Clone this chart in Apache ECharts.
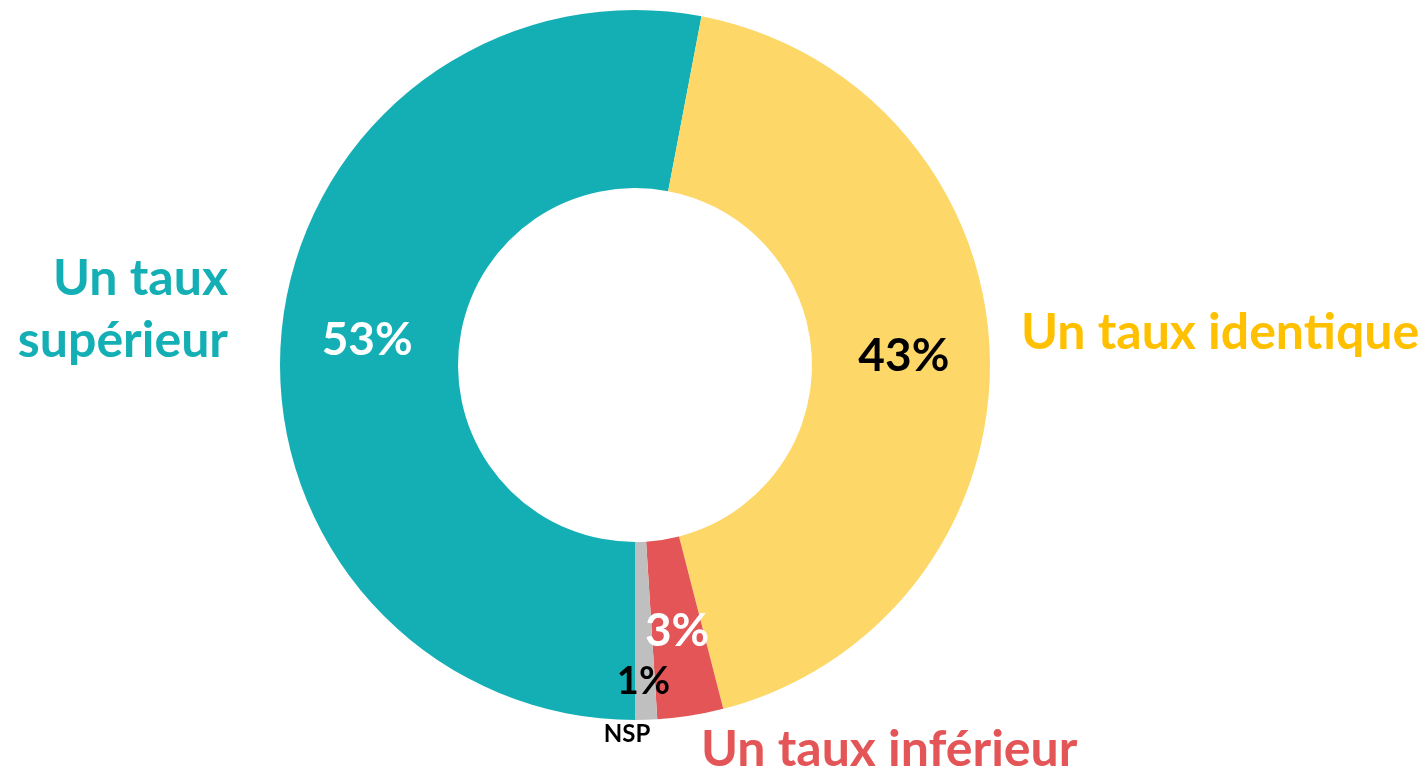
<html>
<head>
<meta charset="UTF-8">
<script src="https://cdnjs.cloudflare.com/ajax/libs/echarts/6.0.0/echarts.min.js"></script>
</head>
<body style="margin:0">
<div id="chart" style="width:1426px;height:771px"></div>
<script>
// categories and values (percent)
var categories = ['Un taux supérieur', 'Un taux identique', 'Un taux inférieur', 'NSP'];
var values = [53, 43, 3, 1];

var sliceColors = ['#14AFB5', '#FDD868', '#E35557', '#BFBFBF'];
var pctColors = ['#ffffff', '#000000', '#ffffff', '#000000'];
var nameColors = ['#14AFB5', '#FFC000', '#E35557', '#000000'];
var nameText = ['Un taux\nsupérieur', 'Un taux identique', 'Un taux inférieur', 'NSP'];

var chart = echarts.init(document.getElementById('chart'));
var font = 'Lato, "Open Sans", sans-serif';

var pctData = categories.map(function (c, i) {
	return {
		name: c, value: values[i],
		itemStyle: {color: sliceColors[i]},
		label: {color: pctColors[i], fontSize: i == 3 ? 38 : 46}
	};
});
var nameData = categories.map(function (c, i) {
	return {
		name: c, value: values[i],
		label: {color: nameColors[i], fontSize: i == 3 ? 24 : 50, formatter: nameText[i]}
	};
});

// where the category names sit
var namePos = [
	{x: 228, y: 310, align: 'right'},
	{x: 1021, y: 333, align: 'left'},
	{x: 701, y: 750, align: 'left'},
	{x: 627, y: 734, align: 'center'}
];

chart.setOption({
	animation: false,
	series: [{
		type: 'pie',
		center: [635, 365],
		radius: [177, 355],
		startAngle: -90,
		clockwise: true,
		avoidLabelOverlap: false,
		silent: true,
		label: {
			show: true, position: 'inside', formatter: '{c}%',
			fontFamily: font, fontWeight: 'bold'
		},
		labelLine: {show: false},
		labelLayout: function (p) {
			if (p.dataIndex == 3) return {dy: 48};
			return {};
		},
		data: pctData
	}, {
		type: 'pie',
		center: [635, 365],
		radius: [177, 355],
		startAngle: -90,
		clockwise: true,
		avoidLabelOverlap: false,
		silent: true,
		itemStyle: {color: 'rgba(0,0,0,0)'},
		label: {
			show: true, position: 'outside',
			fontFamily: font, fontWeight: 'bold', lineHeight: 62
		},
		labelLine: {show: false},
		labelLayout: function (p) {
			var q = namePos[p.dataIndex];
			return {x: q.x, y: q.y, align: q.align, verticalAlign: 'middle'};
		},
		data: nameData
	}]
});
</script>
</body>
</html>
